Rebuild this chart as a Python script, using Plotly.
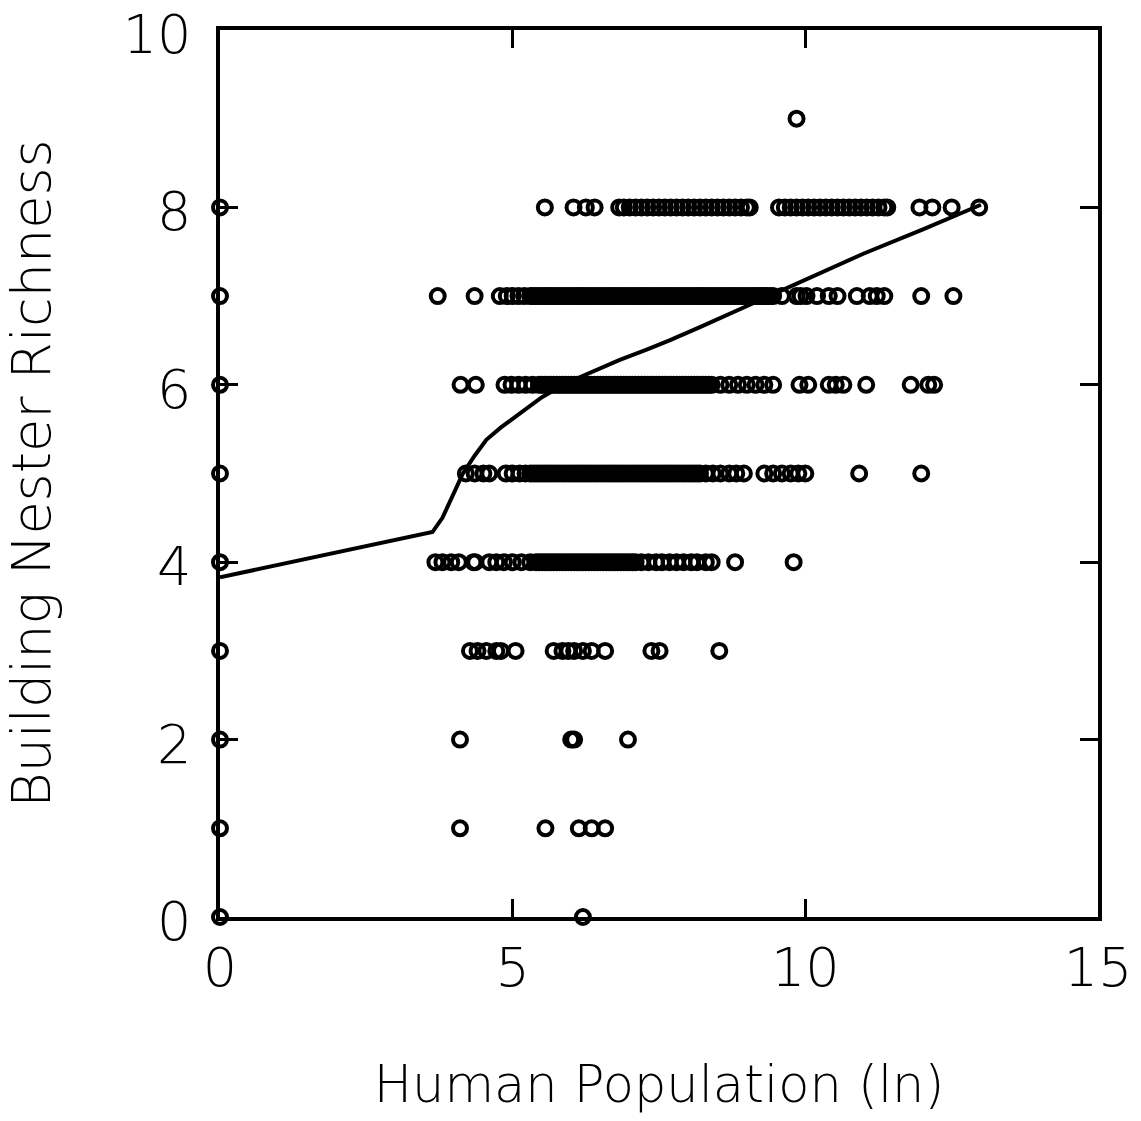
import plotly.graph_objects as go

# ---- data ----
x_y0col = [0, 0, 0, 0, 0, 0, 0, 0, 0]
y_y0col = [0, 1, 2, 3, 4, 5, 6, 7, 8]

row8_x = [5.55, 6.04, 6.25, 6.4,
          6.82, 6.9, 7.0, 7.1, 7.2, 7.3, 7.4, 7.5, 7.6, 7.7, 7.8, 7.9, 8.0, 8.1, 8.2, 8.3,
          8.4, 8.5, 8.6, 8.7, 8.8, 8.9, 9.0, 9.05,
          9.55, 9.65, 9.75, 9.85, 9.95, 10.05, 10.15, 10.25, 10.35, 10.45, 10.55, 10.65,
          10.75, 10.85, 10.95, 11.05, 11.15, 11.25, 11.35, 11.4,
          11.95, 12.17, 12.5, 12.97]

row7_x = [3.72, 4.35, 4.78, 4.9, 5.0, 5.1, 5.2,
          5.30, 5.35, 5.40, 5.45, 5.50, 5.55, 5.60, 5.65, 5.70, 5.75, 5.80, 5.85, 5.90, 5.95,
          6.00, 6.05, 6.10, 6.15, 6.20, 6.25, 6.30, 6.35, 6.40, 6.45, 6.50, 6.55, 6.60, 6.65,
          6.70, 6.75, 6.80, 6.85, 6.90, 6.95, 7.00, 7.05, 7.10, 7.15, 7.20, 7.25, 7.30, 7.35,
          7.40, 7.45, 7.50, 7.55, 7.60, 7.65, 7.70, 7.75, 7.80, 7.85, 7.90, 7.95, 8.00, 8.05,
          8.10, 8.15, 8.20, 8.25, 8.30, 8.35, 8.40, 8.45, 8.50, 8.55, 8.60, 8.65, 8.70, 8.75,
          8.80, 8.85, 8.90, 8.95, 9.00, 9.05, 9.10, 9.15, 9.20, 9.25, 9.30, 9.35, 9.40, 9.45,
          9.6, 9.85, 9.92, 10.02, 10.2, 10.4, 10.55, 10.88, 11.1, 11.22, 11.35, 11.98, 12.53]

row6_x = [4.11, 4.37, 4.86, 4.98, 5.1, 5.22, 5.34,
          5.45, 5.50, 5.55, 5.60, 5.65, 5.70, 5.75, 5.80, 5.85, 5.90, 5.95, 6.00, 6.05, 6.10,
          6.15, 6.20, 6.25, 6.30, 6.35, 6.40, 6.45, 6.50, 6.55, 6.60, 6.65, 6.70, 6.75, 6.80,
          6.85, 6.90, 6.95, 7.00, 7.05, 7.10, 7.15, 7.20, 7.25, 7.30, 7.35, 7.40, 7.45, 7.50,
          7.55, 7.60, 7.65, 7.70, 7.75, 7.80, 7.85, 7.90, 7.95, 8.00, 8.05, 8.10, 8.15, 8.20,
          8.25, 8.30, 8.35, 8.40,
          8.55, 8.7, 8.85, 9.0, 9.15, 9.3, 9.45,
          9.9, 10.05, 10.4, 10.52, 10.65, 11.04, 11.8, 12.1, 12.2]

row5_x = [4.2, 4.35, 4.5, 4.6, 4.88, 5.0, 5.12, 5.22,
          5.30, 5.35, 5.40, 5.45, 5.50, 5.55, 5.60, 5.65, 5.70, 5.75, 5.80, 5.85, 5.90, 5.95,
          6.00, 6.05, 6.10, 6.15, 6.20, 6.25, 6.30, 6.35, 6.40, 6.45, 6.50, 6.55, 6.60, 6.65,
          6.70, 6.75, 6.80, 6.85, 6.90, 6.95, 7.00, 7.05, 7.10, 7.15, 7.20, 7.25, 7.30, 7.35,
          7.40, 7.45, 7.50, 7.55, 7.60, 7.65, 7.70, 7.75, 7.80, 7.85, 7.90, 7.95, 8.00, 8.05,
          8.10, 8.15, 8.20,
          8.3, 8.42, 8.55, 8.7, 8.82, 8.95,
          9.3, 9.45, 9.6, 9.75, 9.88, 10.0, 10.92, 11.98]

row4_x = [3.68, 3.8, 3.95, 4.08, 4.33, 4.36, 4.6, 4.72, 4.85, 5.0, 5.15, 5.3, 5.4,
          5.45, 5.50, 5.55, 5.60, 5.65, 5.70, 5.75, 5.80, 5.85, 5.90, 5.95, 6.00, 6.05, 6.10,
          6.15, 6.20, 6.25, 6.30, 6.35, 6.40, 6.45, 6.50, 6.55, 6.60, 6.65, 6.70, 6.75, 6.80,
          6.85, 6.90, 6.95, 7.00, 7.05, 7.10,
          7.2, 7.32, 7.45, 7.55, 7.68, 7.8, 7.92, 8.05, 8.15, 8.3, 8.4, 8.8, 9.8]

row3_x = [4.27, 4.4, 4.55, 4.72, 4.8, 5.05, 5.7, 5.85, 5.95, 6.05, 6.2, 6.35, 6.58,
          7.37, 7.51, 8.53]
row2_x = [4.1, 6.0, 6.05, 6.97]
row1_x = [4.1, 5.56, 6.13, 6.35, 6.58]
row0_x = [6.2]
row9_x = [9.85]

# fitted curve
line_x = [0, 3.63, 3.8, 3.95, 4.15, 4.35, 4.55, 4.8, 5.12, 5.5, 5.92, 6.4, 6.83, 7.3,
          7.68, 8.2, 9.1, 10.2, 11.0, 12.0, 13.0]
line_y = [3.83, 4.34, 4.5, 4.72, 5.0, 5.2, 5.38, 5.52, 5.68, 5.86, 6.02, 6.16, 6.28, 6.4,
          6.5, 6.65, 6.92, 7.25, 7.48, 7.75, 8.03]

x_ticks = [0, 5, 10, 15]
y_ticks = [0, 2, 4, 6, 8, 10]

# ---- assemble ----
rows = [(x_y0col, y_y0col)]
for yv, xs in [(8, row8_x), (7, row7_x), (6, row6_x), (5, row5_x), (4, row4_x),
               (3, row3_x), (2, row2_x), (1, row1_x), (0, row0_x), (9, row9_x)]:
    rows.append((xs, [yv] * len(xs)))

px = [v for xs, ys in rows for v in xs]
py = [v for xs, ys in rows for v in ys]

fig = go.Figure()
fig.add_trace(go.Scatter(
    x=px, y=py, mode="markers", cliponaxis=False,
    marker=dict(symbol="circle-open", size=14, color="black", line=dict(width=4, color="black")),
    showlegend=False))
fig.add_trace(go.Scatter(
    x=line_x, y=line_y, mode="lines", cliponaxis=False,
    line=dict(color="black", width=4), showlegend=False))

tick_font = dict(family="DejaVu Sans", size=54, color="black", weight=300)
title_font = dict(family="DejaVu Sans", size=51, color="black", weight=300)
ytitle_font = dict(family="DejaVu Sans", size=54, color="black", weight=300)

fig.update_layout(
    width=1141, height=1121,
    margin=dict(l=220, r=43, t=30, b=204),
    paper_bgcolor="white", plot_bgcolor="white",
    xaxis=dict(range=[0, 15], tickvals=x_ticks, ticks="inside", ticklen=18, tickwidth=3,
               tickcolor="black", showline=True, linecolor="black", linewidth=3.5,
               mirror="ticks", showgrid=False, zeroline=False, tickfont=tick_font,
               ticklabelstandoff=0, ticklabeloverflow="allow", automargin=False,
               title=dict(text="Human Population (ln)", font=title_font, standoff=70)),
    yaxis=dict(range=[0, 10], tickvals=y_ticks, ticks="inside", ticklen=18, tickwidth=3,
               tickcolor="black", showline=True, linecolor="black", linewidth=3.5,
               mirror="ticks", showgrid=False, zeroline=False, tickfont=tick_font,
               ticklabelstandoff=14, ticklabelshift=4, ticklabeloverflow="allow",
               automargin=False,
               title=dict(text="Building Nester Richness", font=ytitle_font, standoff=72)),
)

fig.write_html("out.html")
